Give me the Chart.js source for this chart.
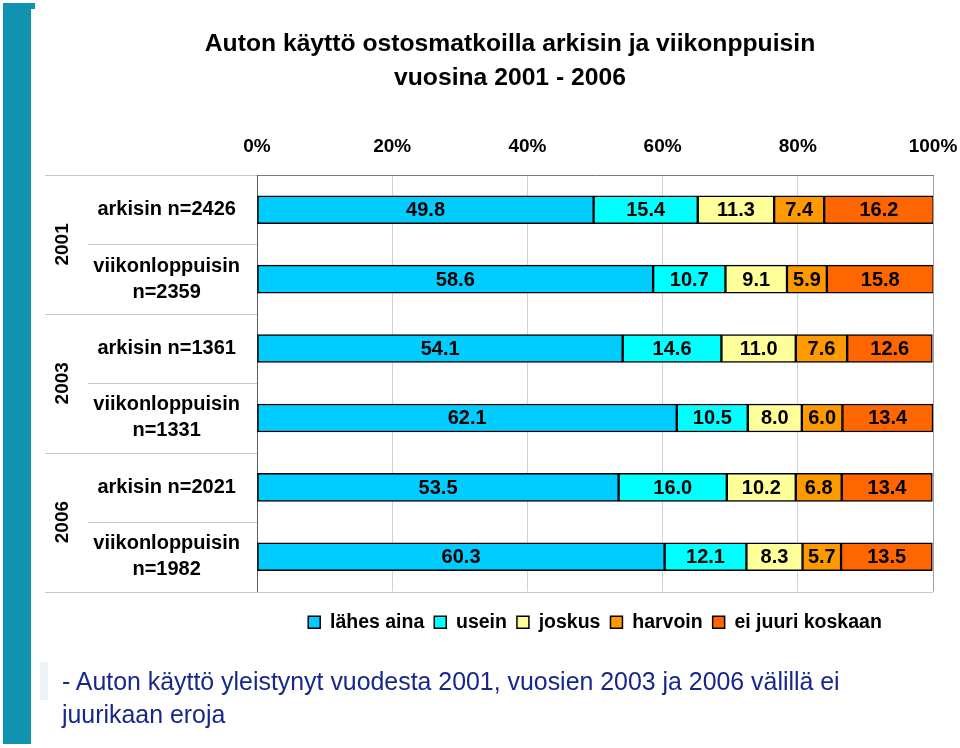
<!DOCTYPE html>
<html><head><meta charset="utf-8">
<script src="https://cdn.jsdelivr.net/npm/chart.js@4.4.0/dist/chart.umd.min.js"></script>
<style>
html,body{margin:0;padding:0;background:#fff;}
body{width:960px;height:748px;position:relative;overflow:hidden;font-family:"Liberation Sans",Arial,sans-serif;}
#strip{position:absolute;left:3px;top:3px;width:28px;height:741px;background:#0f93ae;}
#stripcap{position:absolute;left:3px;top:3px;width:32px;height:6px;background:#0f93ae;}
#ghost{position:absolute;left:40px;top:662px;width:8px;height:38px;background:#edf2f7;}
#wrap{position:absolute;left:0;top:0;width:960px;height:748px;}
#title{position:absolute;left:60px;width:900px;top:26px;text-align:center;font-weight:bold;font-size:24.7px;line-height:34px;color:#000;}
#footer{position:absolute;left:62px;top:665px;font-size:24.9px;line-height:33px;color:#17288a;white-space:nowrap;}
</style></head>
<body>
<div id="strip"></div><div id="stripcap"></div><div id="ghost"></div>
<div id="wrap"><canvas id="c"></canvas></div>
<div id="title">Auton käyttö ostosmatkoilla arkisin ja viikonppuisin<br>vuosina 2001 - 2006</div>
<div id="footer">- Auton käyttö yleistynyt vuodesta 2001, vuosien 2003 ja 2006 välillä ei<br>juurikaan eroja</div>
<script>
const categories = [['arkisin n=2426'], ['viikonloppuisin', 'n=2359'], ['arkisin n=1361'], ['viikonloppuisin', 'n=1331'], ['arkisin n=2021'], ['viikonloppuisin', 'n=1982']];
const years = ['2001', '2003', '2006'];
const seriesNames = ['lähes aina', 'usein', 'joskus', 'harvoin', 'ei juuri koskaan'];
const lahesAina = [49.8, 58.6, 54.1, 62.1, 53.5, 60.3];
const usein = [15.4, 10.7, 14.6, 10.5, 16.0, 12.1];
const joskus = [11.3, 9.1, 11.0, 8.0, 10.2, 8.3];
const harvoin = [7.4, 5.9, 7.6, 6.0, 6.8, 5.7];
const eiJuuriKoskaan = [16.2, 15.8, 12.6, 13.4, 13.4, 13.5];
const tickValues = [0, 20, 40, 60, 80, 100];
const seriesColors = ['#00ccff', '#00ffff', '#ffff99', '#ff9900', '#ff6600'];

const FONT = '"Liberation Sans", Arial, sans-serif';
Chart.defaults.font.family = FONT;
Chart.defaults.color = '#000';

const seriesData = [lahesAina, usein, joskus, harvoin, eiJuuriKoskaan];
const datasets = seriesNames.map((name, i) => ({
  label: name,
  data: seriesData[i],
  backgroundColor: seriesColors[i],
  borderColor: '#000',
  borderWidth: 1.5,
  borderSkipped: false,
  barThickness: 28
}));

const decor = {
  id: 'decor',
  afterDraw(chart) {
    const {ctx, chartArea: a, scales: {y}} = chart;
    const n = categories.length;
    ctx.save();
    ctx.strokeStyle = '#c8c8c8';
    ctx.lineWidth = 1;
    for (let i = 0; i <= n; i++) {
      let py;
      if (i === 0) py = a.top;
      else if (i === n) py = a.bottom;
      else py = (y.getPixelForValue(i - 1) + y.getPixelForValue(i)) / 2;
      py = Math.round(py) + 0.5;
      const x0 = (i % 2 === 0) ? 45 : 88;
      const x1 = (i === n) ? a.right : a.left;
      ctx.beginPath();
      ctx.moveTo(x0, py);
      ctx.lineTo(x1, py);
      ctx.stroke();
    }
    ctx.fillStyle = '#000';
    ctx.font = 'bold 19px ' + FONT;
    ctx.textAlign = 'center';
    ctx.textBaseline = 'middle';
    years.forEach((yr, g) => {
      const cy = (y.getPixelForValue(2 * g) + y.getPixelForValue(2 * g + 1)) / 2;
      ctx.save();
      ctx.translate(63, cy);
      ctx.rotate(-Math.PI / 2);
      ctx.fillText(yr, 0, 0);
      ctx.restore();
    });
    ctx.restore();
  },
  afterDatasetsDraw(chart) {
    const {ctx} = chart;
    ctx.save();
    ctx.fillStyle = '#000';
    ctx.font = 'bold 20px ' + FONT;
    ctx.textAlign = 'center';
    ctx.textBaseline = 'middle';
    chart.data.datasets.forEach((ds, di) => {
      const meta = chart.getDatasetMeta(di);
      meta.data.forEach((bar, i) => {
        const v = ds.data[i];
        ctx.fillText(v.toFixed(1), (bar.x + bar.base) / 2, bar.y + 1);
      });
    });
    ctx.restore();
  }
};

new Chart(document.getElementById('c'), {
  type: 'bar',
  data: {labels: categories, datasets},
  options: {
    indexAxis: 'y',
    responsive: true,
    maintainAspectRatio: false,
    animation: false,
    layout: {padding: {top: 125, right: 27, bottom: 106, left: 0}},
    scales: {
      x: {
        position: 'top',
        stacked: true,
        min: 0,
        max: 100,
        afterBuildTicks: s => { s.ticks = tickValues.map(v => ({value: v})); },
        afterFit: s => { s.height = 50; s.paddingLeft = 0; s.paddingRight = 0; },
        ticks: {
          callback: v => v + '%',
          font: {size: 19, weight: 'bold'},
          color: '#000',
          padding: 17,
          maxRotation: 0
        },
        grid: {
          drawTicks: false,
          color: c => (c.tick && c.tick.value === 100) ? '#a0a0a0' : '#d2d2d2',
          lineWidth: 1
        },
        border: {display: true, color: '#7a7a7a', width: 1}
      },
      y: {
        stacked: true,
        afterFit: s => { s.width = 257; s.paddingTop = 0; s.paddingBottom = 0; },
        ticks: {
          crossAlign: 'center',
          padding: 17,
          font: {size: 20, weight: 'bold', lineHeight: 1.3},
          color: '#000'
        },
        grid: {display: false, drawTicks: false},
        border: {display: true, color: '#606060', width: 1}
      }
    },
    plugins: {
      legend: {
        position: 'bottom',
        fullSize: false,
        title: {display: true, text: '', font: {size: 5}, padding: {top: 5, bottom: 0}},
        labels: {
          boxWidth: 12,
          boxHeight: 12,
          padding: 10,
          font: {size: 19.5, weight: 'bold'},
          color: '#000'
        }
      },
      tooltip: {enabled: false}
    }
  },
  plugins: [decor]
});
</script>
</body></html>
